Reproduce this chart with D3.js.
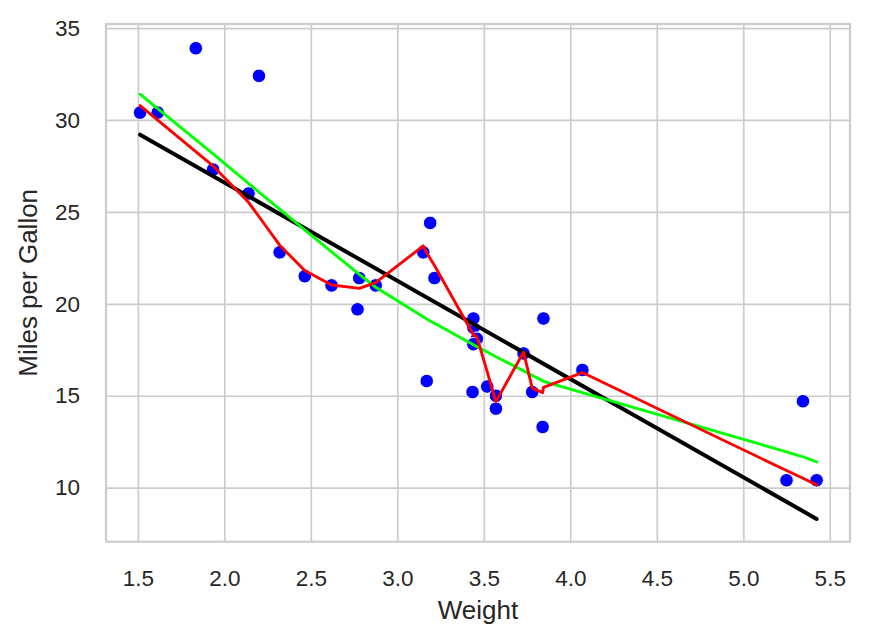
<!DOCTYPE html>
<html>
<head>
<meta charset="utf-8">
<script src="https://cdn.jsdelivr.net/npm/d3@7"></script>
<style>
  html, body { margin: 0; padding: 0; background: #fff; }
  svg { display: block; font-family: "Liberation Sans", Arial, sans-serif; }
</style>
</head>
<body>
<svg id="chart" width="869" height="644"></svg>
<script>
// mtcars: weight (1000 lbs) and miles per gallon
const weight = [2.620, 2.875, 2.320, 3.215, 3.440, 3.460, 3.570, 3.190, 3.150, 3.440, 3.440, 4.070, 3.730, 3.780, 5.250, 5.424, 5.345, 2.200, 1.615, 1.835, 2.465, 3.520, 3.435, 3.840, 3.845, 1.935, 2.140, 1.513, 3.170, 2.770, 3.570, 2.780];
const mpg    = [21.0, 21.0, 22.8, 21.4, 18.7, 18.1, 14.3, 24.4, 22.8, 19.2, 17.8, 16.4, 17.3, 15.2, 10.4, 10.4, 14.7, 32.4, 30.4, 33.9, 21.5, 15.5, 15.2, 13.3, 19.2, 27.3, 26.0, 30.4, 15.8, 19.7, 15.0, 21.4];

// linear fit (black), read at the two ends
const fitX = [1.513, 5.424];
const fitY = [29.20, 8.30];

// smoothed curves, sampled at the sorted weights
const smoothX = [1.513, 1.615, 1.835, 1.935, 2.140, 2.200, 2.320, 2.465, 2.620, 2.770, 2.780, 2.875, 3.150, 3.170, 3.190, 3.215, 3.435, 3.440, 3.460, 3.520, 3.570, 3.730, 3.780, 3.840, 3.845, 4.070, 5.250, 5.345, 5.424];
const greenY  = [31.40, 30.62, 28.93, 28.15, 26.55, 26.08, 25.15, 24.02, 22.82, 21.68, 21.60, 20.90, 19.30, 19.18, 19.07, 18.94, 17.80, 17.78, 17.67, 17.38, 17.12, 16.35, 16.10, 15.82, 15.78, 15.17, 11.95, 11.68, 11.40];
const redY    = [30.78, 29.99, 28.28, 27.50, 25.52, 24.75, 23.19, 21.81, 21.02, 20.85, 20.84, 21.15, 23.15, 22.78, 22.47, 22.08, 18.40, 18.30, 18.20, 16.30, 14.68, 17.37, 15.41, 15.17, 15.45, 16.26, 10.93, 10.51, 10.15];

const xTicks = [1.5, 2.0, 2.5, 3.0, 3.5, 4.0, 4.5, 5.0, 5.5];
const yTicks = [10, 15, 20, 25, 30, 35];
const xLabel = "Weight";
const yLabel = "Miles per Gallon";

const svg = d3.select("#chart");
const L = 106, R = 850, T = 24, B = 541.7;
const x = d3.scaleLinear().domain([1.316, 5.617]).range([L, R]);
const y = d3.scaleLinear().domain([7.06, 35.22]).range([B, T]);
const gridColor = "#cccccc";
const textColor = "#262626";

// grid
const gx = svg.append("g").attr("transform", `translate(0,${B})`)
  .call(d3.axisBottom(x).tickValues(xTicks).tickSize(-(B - T)).tickFormat(""));
const gy = svg.append("g").attr("transform", `translate(${L},0)`)
  .call(d3.axisLeft(y).tickValues(yTicks).tickSize(-(R - L)).tickFormat(""));
[gx, gy].forEach(g => {
  g.select(".domain").remove();
  g.selectAll(".tick line").attr("stroke", gridColor).attr("stroke-width", 1.7);
});

// tick labels
const lx = svg.append("g").attr("transform", `translate(0,${B})`)
  .call(d3.axisBottom(x).tickValues(xTicks).tickSize(0).tickPadding(28).tickFormat(d3.format(".1f")));
const ly = svg.append("g").attr("transform", `translate(${L},0)`)
  .call(d3.axisLeft(y).tickValues(yTicks).tickSize(0).tickPadding(26).tickFormat(d3.format("d")));
[lx, ly].forEach(g => {
  g.select(".domain").remove();
  g.selectAll(".tick text").attr("fill", textColor)
    .style("font-size", "22.5px").style("font-family", "Liberation Sans, Arial, sans-serif");
});

// spines
svg.append("rect").attr("x", L).attr("y", T).attr("width", R - L).attr("height", B - T)
  .attr("fill", "none").attr("stroke", gridColor).attr("stroke-width", 2.2);

// points
svg.append("g").selectAll("circle").data(weight.map((w, i) => [w, mpg[i]])).join("circle")
  .attr("cx", d => x(d[0])).attr("cy", d => y(d[1])).attr("r", 6.8)
  .attr("fill", "#0000ff").attr("stroke", "#ffffff").attr("stroke-width", 1);

const line = d3.line().x(d => x(d[0])).y(d => y(d[1]));

svg.append("path").datum(fitX.map((v, i) => [v, fitY[i]]))
  .attr("d", line).attr("fill", "none").attr("stroke", "#000000")
  .attr("stroke-width", 4).attr("stroke-linecap", "round");

svg.append("path").datum(smoothX.map((v, i) => [v, greenY[i]]))
  .attr("d", line).attr("fill", "none").attr("stroke", "#00ff00")
  .attr("stroke-width", 2.9).attr("stroke-linejoin", "round").attr("stroke-linecap", "round");

svg.append("path").datum(smoothX.map((v, i) => [v, redY[i]]))
  .attr("d", line).attr("fill", "none").attr("stroke", "#ff0000")
  .attr("stroke-width", 2.9).attr("stroke-linejoin", "round").attr("stroke-linecap", "round");

// axis titles
svg.append("text").attr("x", (L + R) / 2).attr("y", 619).attr("text-anchor", "middle")
  .attr("fill", textColor).style("font-size", "26px").text(xLabel);
svg.append("text").attr("transform", `translate(37,${(T + B) / 2}) rotate(-90)`)
  .attr("text-anchor", "middle").attr("fill", textColor).style("font-size", "26px").text(yLabel);
</script>
</body>
</html>
